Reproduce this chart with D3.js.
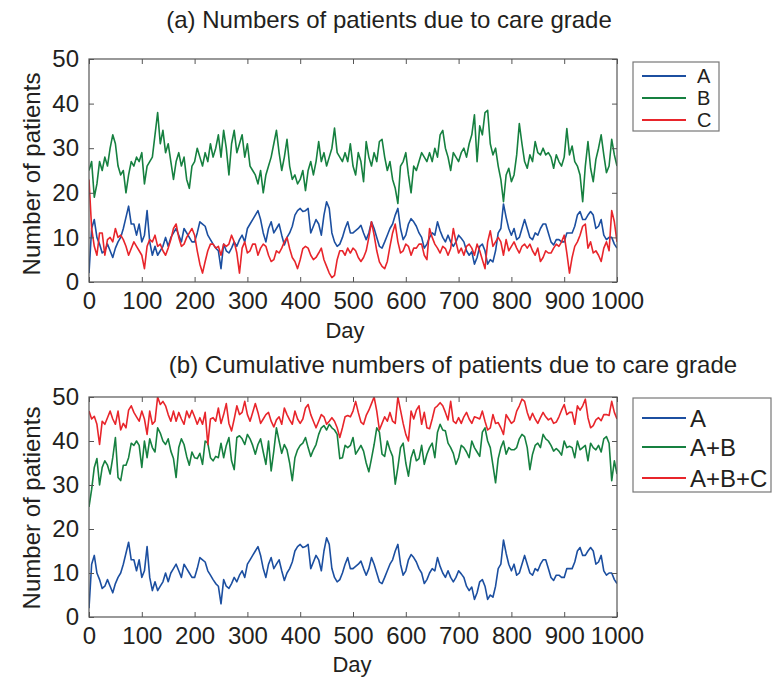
<!DOCTYPE html>
<html>
<head>
<meta charset="utf-8">
<script src="https://cdn.jsdelivr.net/npm/d3@7"></script>
<style>
  body { margin: 0; background: #fff; }
  text { font-family: "Liberation Sans", Arial, Helvetica, sans-serif; fill: #231f20; }
</style>
</head>
<body>
<div id="main"></div>
<script>
// values, one every 5 days (day 0 .. 1000)
var step = 5;
var gradeA = [
  2,12,14,10,8.5,6.5,7,8.5,7,5.5,7.6,9,10,12,14.5,17,13,13,10.5,13,
  9,10.5,16,9,6,8,6,7,8,10,8,10,11,12,10.5,9,12,11,10,9,
  9,11,13.5,13,12.5,10.5,9.5,8.5,7.6,7,3,8.5,7,6.5,7.6,9,8,9.5,10.5,9,
  12,13,14,15,16,14,11,9,12,13.5,11,12,13,10.5,8.3,10,11,12.5,15,16,
  16.5,15.8,16,16.5,11,12.5,14,13,10.5,15,18,16.5,11,9,8,8.5,10,12,13.5,11,
  11,11.5,12,12.7,11,9.5,11,13.5,12,10,8,7.6,9,10.5,12,13,15,16.5,12,9.5,
  10.5,13,14.2,13.5,12.5,11,10,7.6,8.5,10,11,10.5,13.5,11.5,10,9,10.5,9,8,9,
  10.5,9.8,9,7,6,6.8,4,5.5,8,8.5,7,4,5,4.5,7,11,12,17.5,14.5,12,
  10.5,12,9.5,10,12,14,12,10,9.5,11,10.5,12,13,13,11,9,8.3,9.5,9.5,9,
  9,11,11,11,12.5,15,15.8,14,14,15,15.8,15,12,12.5,14,10.5,9.5,10,10,8.5,
  7.6
];
var gradeB = [
  25,27,19,22,27,25,28,26,30,33,31,26,24,25,20,24,27,26,28,27,
  29,22,26,27,28,33,38,31,34,29,31,27,23,27,29,26,28,23,21,26,
  27,30,28,26,29,27,31,28,30,33,28,34,30,24,31,34,29,31,33,28,
  31,26,25,24,22,25,20,24,26,28,31,34,29,25,28,32,26,23,24,22,
  23,25,20.5,25,27,24,27,31.5,27,29,26,28,30,34.5,29,28,27,29,27,31,
  26,24,29,27,22.5,31.5,28,26,29,27,31.5,32,28,25,27,23,21,17.6,26,27,
  29,24,20,26,25,27,29,28,27,29,27,30,28,33,34,30,28,25,29,28,
  27,29,30,28,31,33,37.5,27,35,33,38,38.5,31,28.5,30,26,23,18,24,25.5,
  22.5,24,28.5,35.5,31,27,25.5,28.5,27,31.5,29,28.5,30,28.5,29,28,25.5,28.5,27,26,
  28,34.4,28.5,30.5,27,26,24,18,26,31.5,25.5,22.5,27.5,30,33,28.5,24.5,26,32,28.5,
  26
];
var gradeC = [
  23,12,8,6,11,11,6,9.5,10,9,12,10,10.5,9.5,8,6,7.5,9,8,7,
  6,3,8,9.5,9,10.5,8,8.5,7,6,7.6,9.5,12,13,10,8,8.5,10,11,12,
  10.5,7,4,2,4.6,7,8.5,8.5,7.6,8,6,8.5,8,8.5,10.5,9,6.5,2,7.6,9,
  6.5,7,8.5,8.5,6,7.6,8.5,8,6,4.6,5,7,6.5,7.6,9,10,7.5,5.5,4.6,3,
  5,7.5,8,7.6,6,5,5.5,6.5,7.6,5,3.5,2,1,1.5,5,7,7,6,7.6,6.5,
  7.6,7,5.5,4.6,5.5,7,10,13.5,10.5,7,4.5,3.5,3,4.6,8,11,13,9,6.5,7,
  8.5,8,6,7.6,7.6,8.5,8.5,6,5,12,10,8.5,7.6,6.5,8,7.5,6,7.5,12,9,
  6.5,7.6,6,8,8.5,7.6,6,8.5,7,5,3,9,11.5,8,9,10,9,6,9.5,7,
  8,9,7.6,6.5,8,8.5,7.6,8.5,7,6,7.6,4.6,5.5,7,6.5,6.5,7.6,8.5,8,9,
  10.5,6.5,2,5.5,8,9,10.5,12.5,13,7.6,9,6.5,7,6,4.6,7.6,9,7,16,13.5,
  9
];
// cumulative curves
var cumAB = [
  25,29,34,36,30,34,35.5,34.5,32.5,36.2,40.8,31.7,31,34.5,34.5,36.2,39.5,39,40,39,
  34,40,36.2,40.5,38.5,37.5,43,41.8,40,39.2,40.5,37.7,36,31.7,38.5,40.5,39.2,36.5,34.5,37.5,
  36.2,36,37.2,34.7,40,39.5,36.2,35.5,36.5,36.2,39.5,36.2,39,40.8,35.5,33.5,40.8,41.2,40.5,39.2,
  41.5,40.5,39,37,39.2,40.5,37.5,34.7,40,33.2,37.7,43,40,37.2,39.2,38,35,31,36.2,38,
  39,39.5,40.8,38.5,36.5,38,39.2,41.5,43,43.5,42.5,43.8,43,42.5,41.5,36,36.2,39,38.5,39,
  40.8,37,38,39,37.7,35,33,36,39.2,43,42,37,36.5,40,38,36.5,30.2,34,38.5,39.5,
  35,32,36.2,38,35.5,36,39,34.7,37,38.5,39.5,36.2,42,43.8,42.5,42.3,39.5,38.5,37.2,34.7,
  36.2,39,38.5,37.5,36.2,40,38.5,37.5,36.5,42,43,40,38.5,34.5,30.5,36,38.5,40,37,38.5,
  38,38,38.5,40.5,41.5,41,38.5,33.5,37,39,39.5,38.5,41.5,40.5,40,39,37.7,38.3,37.7,36.8,
  40,38.5,38.8,38.5,36.2,40,38,38.5,39,35.5,39.5,38.5,38,39,37.5,40.5,41,39.5,31,35.5,
  32.5
];
var cumABC = [
  46.8,45,45.6,43.8,39.2,44.5,43.8,45.3,46.8,45,43.8,46.8,42.5,44,43,47,48,46.5,45.5,44.5,
  46.8,45,41.5,46.8,43.8,44.5,50,48.3,49,48,46,44.5,46.8,44.5,46.5,45,43.8,46.8,45.3,47,
  45.5,43.8,45.3,43.8,46.5,39.2,45,45.3,44.5,47.5,44,46,48.5,44,42.3,45,48,46,46.5,49,
  46,44.5,46.5,48.5,46.5,44,45,46,46.5,44.5,43.2,44.8,45.5,43.8,47.5,46,44.8,43.8,46.8,45,
  44,45,47.5,48.3,46,44.5,43,44.5,46,45.5,43.8,44.5,45.3,44.5,43,40.8,43,45.5,45.8,45.5,
  46.8,49,46.5,44.3,43.8,45.8,47,48.5,50,46.8,42.5,44,45.5,44.5,46.5,44.5,44,50,47,44,
  41.5,40,46.8,45,47,48,43.8,46.5,43,42.8,45,47.5,48,48.7,48,46.5,44.8,49,44.5,44,
  45.3,44,45.5,46.5,45,44,45.5,45.3,45,46.8,44.5,42.5,43,46,44,44.2,43,41.5,46,45,
  44,44.5,46.8,48,49.5,49,46.5,44.8,46.3,45,44,45.3,46.5,45.5,44.8,45.2,44,44.3,45.5,47,
  48.3,46,46.5,46.5,43.8,48,47,48,49.5,45.3,43,43.5,44.8,45.3,44.6,46,46,45.8,49,46.5,
  45
];
var dayTicks = [0,100,200,300,400,500,600,700,800,900,1000];
var valueTicks = [0,10,20,30,40,50];
var legendA = ["A", "B", "C"];
var legendB = ["A", "A+B", "A+B+C"];
var colors = ["#1c4fa0", "#168040", "#e8252b"];

var width = 772, height = 678;

var x = d3.scaleLinear().domain([0, 1000]).range([89, 617]);

function main () {
  const svg = d3.create("svg")
    .attr("width", width)
    .attr("height", height)
    .attr("viewBox", [0, 0, width, height]);

  const days = gradeA.map((v, i) => i * step);

  panel(svg, {
    id: "a", top: 59, bottom: 282,
    title: "(a) Numbers of patients due to care grade", titleX: 389, titleY: 28,
    series: [gradeA, gradeB, gradeC], days: days, names: legendA,
    legend: {x: 633, y: 62, w: 86, h: 69, rows: [76, 98, 120], textX: 697, size: 20},
    ylabelY: 174, dayX: 345, dayY: 338
  });
  panel(svg, {
    id: "b", top: 397, bottom: 617,
    title: "(b) Cumulative numbers of patients due to care grade", titleX: 453, titleY: 373,
    series: [gradeA, cumAB, cumABC], days: days, names: legendB,
    legend: {x: 633, y: 398, w: 138, h: 94, rows: [418, 447, 478], textX: 690, size: 24},
    ylabelY: 508, dayX: 352, dayY: 672
  });

  return svg.node();
}

function panel (svg, o) {
  const y = d3.scaleLinear().domain([0, 50]).range([o.bottom, o.top]);
  const g = svg.append("g");

  g.append("clipPath").attr("id", "clip-" + o.id)
    .append("rect")
      .attr("x", x(0)).attr("y", o.top)
      .attr("width", x(1000) - x(0)).attr("height", o.bottom - o.top);

  const line = d3.line()
    .x((d, i) => x(o.days[i]))
    .y(d => y(d));

  g.append("g")
    .attr("clip-path", `url(#clip-${o.id})`)
    .attr("fill", "none")
    .attr("stroke-width", 1.6)
    .attr("stroke-linejoin", "round")
    .selectAll("path")
    .data(o.series)
    .join("path")
      .attr("stroke", (d, i) => colors[i])
      .attr("d", line);

  // axes, ticks inside like matlab
  const bottom = g.append("g")
    .attr("transform", `translate(0,${o.bottom})`)
    .call(d3.axisBottom(x).tickValues(dayTicks).tickFormat(d => d)
      .tickSizeInner(-5).tickSizeOuter(0).tickPadding(10));
  const top = g.append("g")
    .attr("transform", `translate(0,${o.top})`)
    .call(d3.axisTop(x).tickValues(dayTicks).tickSizeInner(-5).tickSizeOuter(0).tickFormat(""));
  const left = g.append("g")
    .attr("transform", `translate(${x(0)},0)`)
    .call(d3.axisLeft(y).tickValues(valueTicks).tickSizeInner(-5).tickSizeOuter(0).tickPadding(10));
  const right = g.append("g")
    .attr("transform", `translate(${x(1000)},0)`)
    .call(d3.axisRight(y).tickValues(valueTicks).tickSizeInner(-5).tickSizeOuter(0).tickFormat(""));

  [bottom, top, left, right].forEach(a => {
    a.select(".domain").remove();
    a.selectAll("line").attr("stroke", "#555");
    a.selectAll("text")
      .attr("font-family", null)
      .attr("font-size", 24)
      .attr("fill", "#231f20");
  });

  g.append("rect")
    .attr("x", x(0)).attr("y", o.top)
    .attr("width", x(1000) - x(0)).attr("height", o.bottom - o.top)
    .attr("fill", "none").attr("stroke", "#555").attr("stroke-width", 1.2);

  g.append("text")
    .attr("x", o.titleX).attr("y", o.titleY)
    .attr("text-anchor", "middle").attr("font-size", 24)
    .text(o.title);

  g.append("text")
    .attr("transform", `translate(40,${o.ylabelY}) rotate(-90)`)
    .attr("text-anchor", "middle").attr("font-size", 24)
    .text("Number of patients");

  g.append("text")
    .attr("x", o.dayX).attr("y", o.dayY)
    .attr("text-anchor", "middle").attr("font-size", 22)
    .text("Day");

  // legend
  const L = o.legend;
  g.append("rect")
    .attr("x", L.x).attr("y", L.y).attr("width", L.w).attr("height", L.h)
    .attr("fill", "#fff").attr("stroke", "#777").attr("stroke-width", 1.2);
  const item = g.append("g").selectAll("g")
    .data(o.names)
    .join("g")
      .attr("transform", (d, i) => `translate(0,${L.rows[i]})`);
  item.append("line")
    .attr("x1", L.x + 9).attr("x2", L.x + 53)
    .attr("stroke", (d, i) => colors[i]).attr("stroke-width", 2.2);
  item.append("text")
    .attr("x", L.textX).attr("dy", "0.36em")
    .attr("font-size", L.size)
    .text(d => d);
}

window.onload = function () {
  document.getElementById("main").appendChild(main());
}
</script>
</body>
</html>
